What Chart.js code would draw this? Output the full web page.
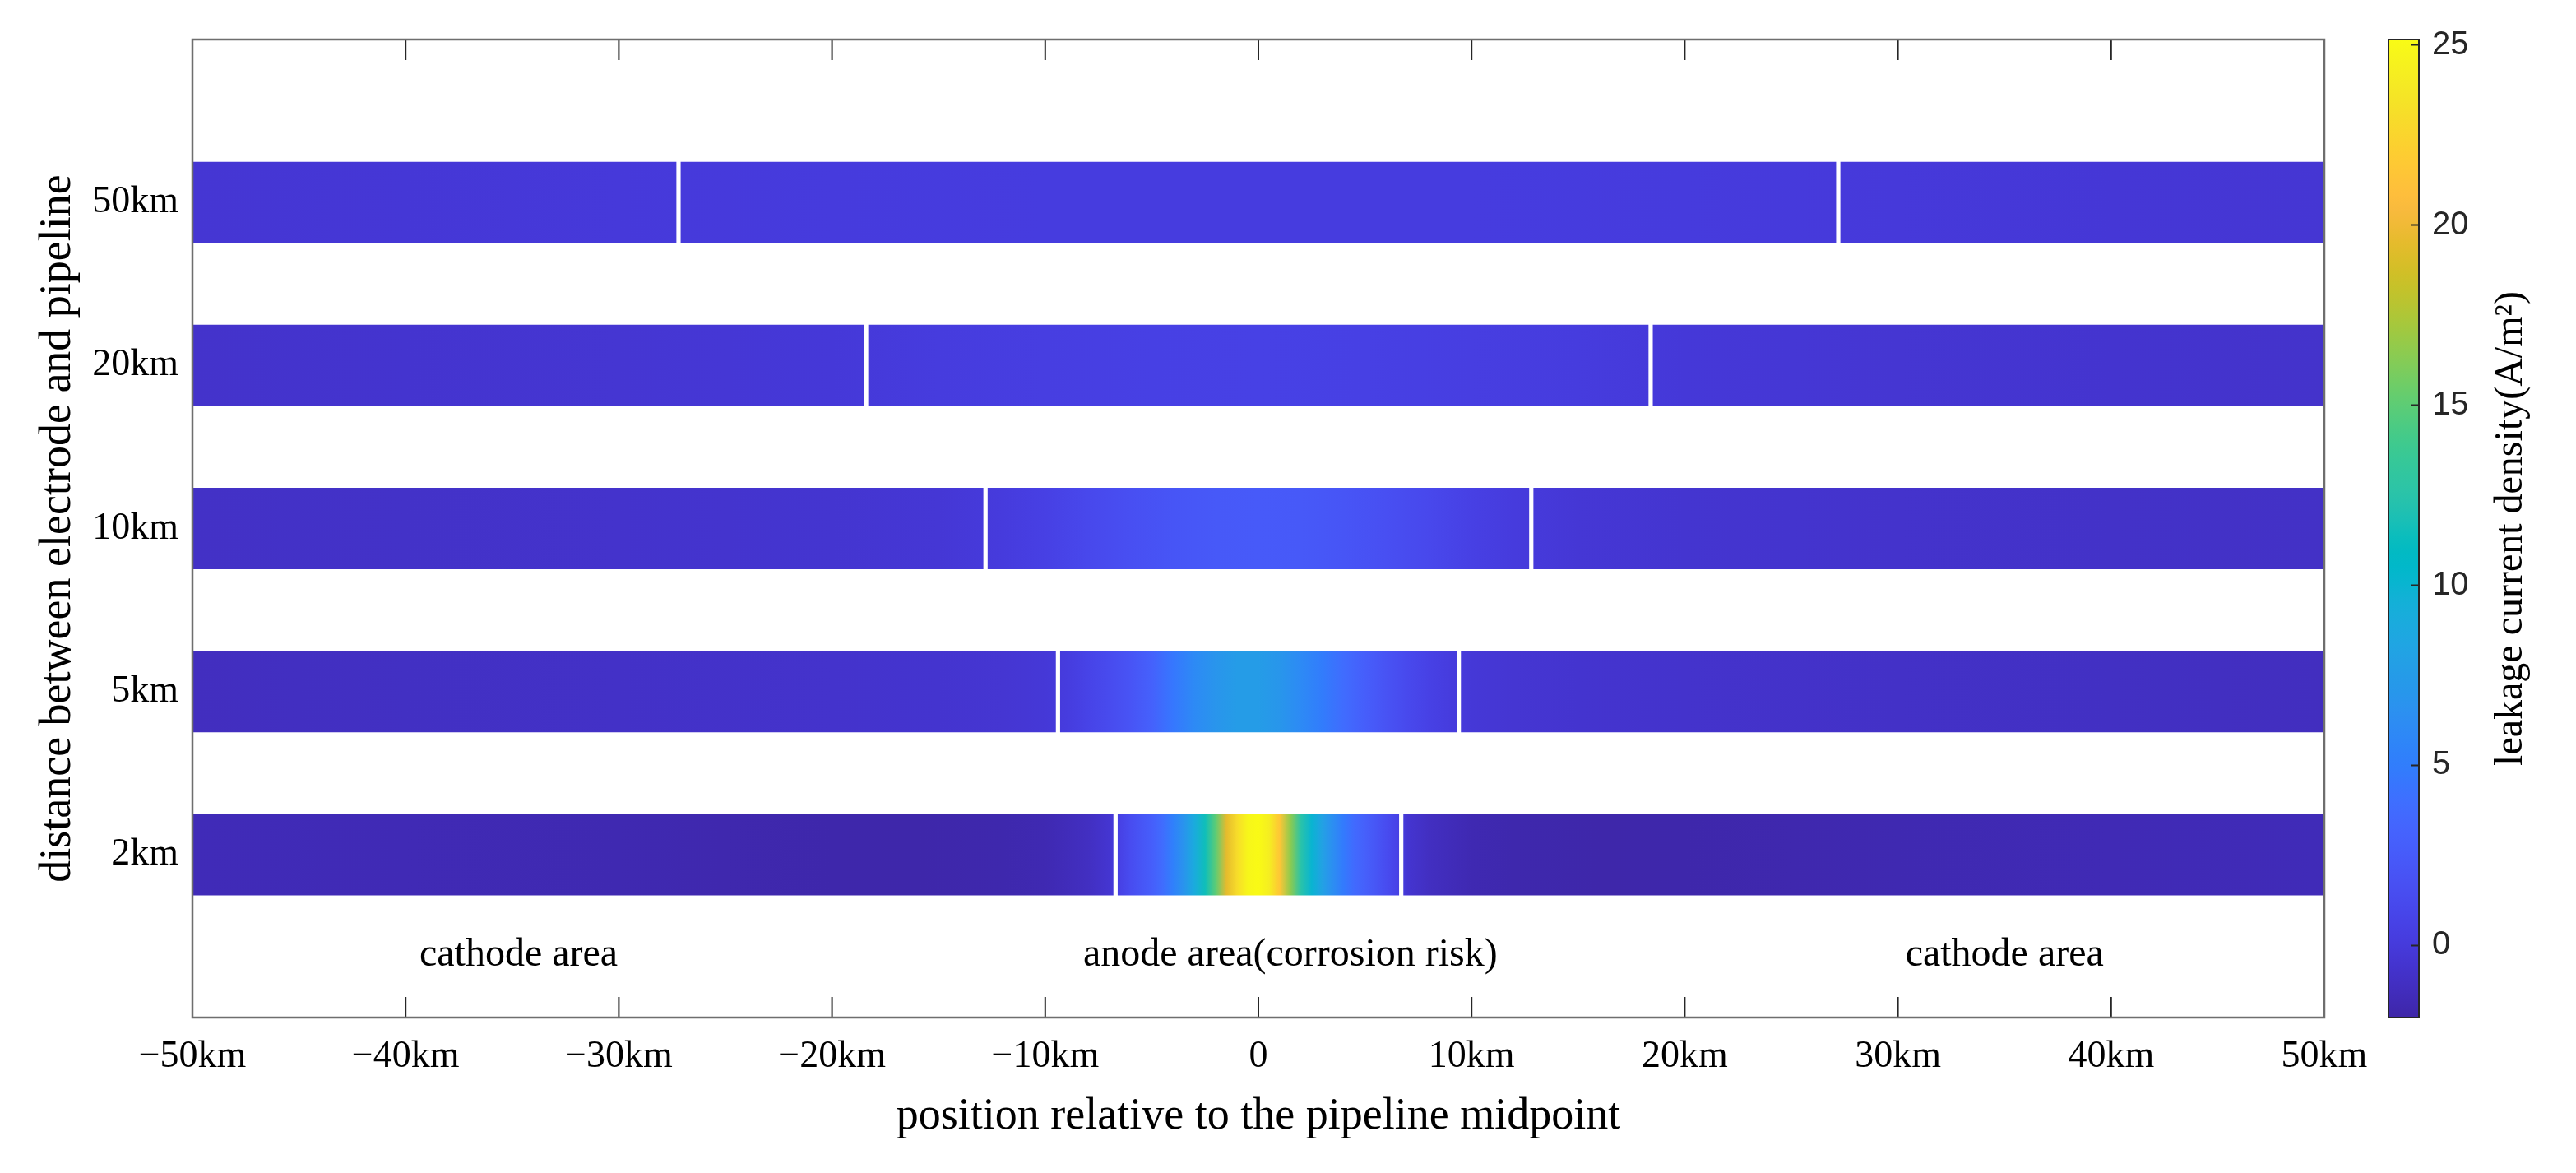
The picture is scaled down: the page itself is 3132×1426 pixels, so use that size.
<!DOCTYPE html>
<html>
<head>
<meta charset="utf-8">
<script src="https://cdn.jsdelivr.net/npm/chart.js@4.4.1/dist/chart.umd.min.js"></script>
<style>
    html, body { margin: 0; padding: 0; background: #fff; }
    #wrap { width: 3132px; height: 1426px; }
</style>
</head>
<body>
<div id="wrap"><canvas id="leak-chart"></canvas></div>
<script>
const rowLabels = ['2km', '5km', '10km', '20km', '50km'];
const xTicks = [-50, -40, -30, -20, -10, 0, 10, 20, 30, 40, 50];
const cbTicks = [0, 5, 10, 15, 20, 25];
const cbMin = -2;
const cbMax = 25.15;
// where the sign of the current changes (km from midpoint), one per row
const gapPos = [6.7, 9.4, 12.8, 18.4, 27.2];

const pos2km = [-50, -40, -30, -25, -20, -16, -12, -10, -8, -7, -6.5, -6, -5, -4.5, -4, -3.5, -3, -2.5, -2, -1.5, -1, -0.5, 0, 0.5, 1, 1.5, 2, 2.5, 3, 3.5, 4, 4.5, 5, 6, 6.5, 7, 8, 10, 12, 16, 20, 25, 30, 40, 50];
const val2km = [-1.45, -1.55, -1.7, -1.8, -1.92, -1.95, -1.85, -1.65, -1.1, -0.45, 0.6, 1.4, 2.8, 3.8, 5.2, 6.8, 9.0, 11.5, 15.0, 19.5, 23.0, 24.8, 25.1, 24.2, 21.5, 16.5, 12.5, 10.0, 8.0, 6.3, 4.8, 3.7, 2.9, 1.4, 0.7, -0.45, -1.1, -1.65, -1.85, -1.95, -1.92, -1.8, -1.7, -1.55, -1.45];
const pos5km = [-50, -40, -30, -20, -15, -12, -10, -9, -8, -7, -6, -5, -4, -3, -2, -1, 0, 1, 2, 3, 4, 5, 6, 7, 8, 9, 10, 12, 15, 20, 30, 40, 50];
const val5km = [-1.15, -1.0, -0.85, -0.65, -0.55, -0.4, -0.2, 0.15, 0.7, 1.3, 2.0, 3.0, 4.6, 6.0, 6.9, 7.5, 7.5, 7.0, 6.0, 4.9, 3.8, 2.8, 1.9, 1.2, 0.6, 0.15, -0.2, -0.4, -0.55, -0.65, -0.85, -1.0, -1.15];
const pos10km = [-50, -40, -30, -20, -15, -12, -10, -8, -6, -4, -2, 0, 2, 4, 6, 8, 10, 12, 15, 20, 30, 40, 50];
const val10km = [-0.9, -0.8, -0.65, -0.5, -0.3, 0.1, 0.5, 1.1, 1.6, 2.1, 2.4, 2.5, 2.4, 2.1, 1.6, 1.1, 0.5, 0.1, -0.3, -0.5, -0.65, -0.8, -0.9];
const pos20km = [-50, -40, -30, -20, -15, -10, -5, 0, 5, 10, 15, 20, 30, 40, 50];
const val20km = [-0.7, -0.55, -0.4, -0.15, 0.15, 0.35, 0.5, 0.55, 0.5, 0.35, 0.15, -0.15, -0.4, -0.55, -0.7];
const pos50km = [-50, -40, -30, -20, -10, 0, 10, 20, 30, 40, 50];
const val50km = [-0.35, -0.25, -0.05, 0.1, 0.18, 0.2, 0.18, 0.1, -0.05, -0.25, -0.35];

const rowPos = [pos2km, pos5km, pos10km, pos20km, pos50km];
const rowVal = [val2km, val5km, val10km, val20km, val50km];

// MATLAB parula, 64 steps
const parula = [
    [0.2422,0.1504,0.6603],[0.2504,0.1650,0.7076],[0.2578,0.1818,0.7511],[0.2647,0.1978,0.7952],
    [0.2706,0.2147,0.8364],[0.2751,0.2342,0.8710],[0.2783,0.2559,0.8991],[0.2803,0.2782,0.9221],
    [0.2813,0.3006,0.9414],[0.2810,0.3228,0.9579],[0.2795,0.3447,0.9717],[0.2760,0.3667,0.9829],
    [0.2699,0.3892,0.9906],[0.2602,0.4123,0.9952],[0.2440,0.4358,0.9988],[0.2206,0.4603,0.9973],
    [0.1963,0.4847,0.9892],[0.1834,0.5074,0.9798],[0.1786,0.5289,0.9682],[0.1764,0.5499,0.9520],
    [0.1687,0.5720,0.9359],[0.1540,0.5902,0.9218],[0.1460,0.6091,0.9079],[0.1380,0.6276,0.8973],
    [0.1248,0.6459,0.8883],[0.1113,0.6635,0.8763],[0.0952,0.6798,0.8598],[0.0689,0.6948,0.8394],
    [0.0297,0.7082,0.8163],[0.0036,0.7203,0.7917],[0.0067,0.7312,0.7660],[0.0433,0.7411,0.7394],
    [0.0964,0.7500,0.7120],[0.1408,0.7584,0.6842],[0.1717,0.7670,0.6554],[0.1938,0.7758,0.6251],
    [0.2161,0.7843,0.5923],[0.2470,0.7918,0.5567],[0.2906,0.7973,0.5188],[0.3406,0.8008,0.4789],
    [0.3909,0.8029,0.4354],[0.4456,0.8024,0.3909],[0.5044,0.7993,0.3480],[0.5616,0.7942,0.3045],
    [0.6174,0.7876,0.2612],[0.6720,0.7793,0.2227],[0.7242,0.7698,0.1910],[0.7738,0.7598,0.1646],
    [0.8203,0.7498,0.1535],[0.8634,0.7406,0.1596],[0.9035,0.7330,0.1774],[0.9393,0.7288,0.2100],
    [0.9728,0.7298,0.2394],[0.9956,0.7434,0.2371],[0.9970,0.7659,0.2199],[0.9952,0.7893,0.2028],
    [0.9892,0.8136,0.1885],[0.9786,0.8386,0.1766],[0.9676,0.8639,0.1643],[0.9610,0.8890,0.1537],
    [0.9597,0.9135,0.1423],[0.9628,0.9373,0.1265],[0.9691,0.9606,0.1064],[0.9769,0.9839,0.0805]
];

function rgb(c) {
    return `rgb(${Math.round(c[0] * 255)},${Math.round(c[1] * 255)},${Math.round(c[2] * 255)})`;
}
function colorFor(v) {
    let t = (v - cbMin) / (cbMax - cbMin);
    t = Math.min(1, Math.max(0, t)) * (parula.length - 1);
    const i = Math.min(parula.length - 2, Math.floor(t));
    const f = t - i;
    const a = parula[i], b = parula[i + 1];
    return rgb([a[0] + (b[0] - a[0]) * f, a[1] + (b[1] - a[1]) * f, a[2] + (b[2] - a[2]) * f]);
}

// three segments per row, split by a thin white gap at the sign change
const segments = [];
gapPos.forEach((g, i) => {
    segments.push({ x: [-50, -g - 0.1], y: i + 1 });
    segments.push({ x: [-g + 0.1, g - 0.1], y: i + 1 });
    segments.push({ x: [g + 0.1, 50], y: i + 1 });
});

function rowGradient(chart, i) {
    const xs = chart.scales.x;
    const grad = chart.ctx.createLinearGradient(xs.getPixelForValue(-50), 0, xs.getPixelForValue(50), 0);
    rowPos[i].forEach((p, k) => grad.addColorStop((p + 50) / 100, colorFor(rowVal[i][k])));
    return grad;
}

const serif = 'Liberation Serif';
const notes = [
    { text: 'cathode area', x: -34.7, y: 0.32 },
    { text: 'anode area(corrosion risk)', x: 1.5, y: 0.32 },
    { text: 'cathode area', x: 35.0, y: 0.32 }
];

const framePlugin = {
    id: 'frame',
    beforeDatasetsDraw(chart) {
        const { ctx, chartArea: a, scales: { x, y } } = chart;
        ctx.save();
        ctx.strokeStyle = '#262626';
        ctx.lineWidth = 2;
        ctx.beginPath();
        xTicks.forEach(v => {
            const px = x.getPixelForValue(v);
            ctx.moveTo(px, a.bottom); ctx.lineTo(px, a.bottom - 25);
            ctx.moveTo(px, a.top); ctx.lineTo(px, a.top + 25);
        });
        rowLabels.forEach((_, i) => {
            const py = y.getPixelForValue(i + 1);
            ctx.moveTo(a.left, py); ctx.lineTo(a.left + 25, py);
            ctx.moveTo(a.right, py); ctx.lineTo(a.right - 25, py);
        });
        ctx.stroke();
        ctx.restore();
    },
    afterDatasetsDraw(chart) {
        const { ctx, chartArea: a, scales: { x, y } } = chart;
        ctx.save();
        ctx.strokeStyle = '#6e6e6e';
        ctx.lineWidth = 2.5;
        ctx.strokeRect(a.left, a.top, a.right - a.left, a.bottom - a.top);
        ctx.fillStyle = '#000';
        ctx.font = `48px "${serif}"`;
        ctx.textAlign = 'center';
        ctx.textBaseline = 'alphabetic';
        notes.forEach(n => ctx.fillText(n.text, x.getPixelForValue(n.x), y.getPixelForValue(n.y)));
        ctx.restore();
    },
    afterDraw(chart) {
        const { ctx } = chart;
        const cb = chart.scales.cb;
        const top = cb.getPixelForValue(cbMax);
        const bottom = cb.getPixelForValue(cbMin);
        const left = chart.scales.gap.left + 78;
        const w = 37;
        ctx.save();
        const grad = ctx.createLinearGradient(0, bottom, 0, top);
        parula.forEach((c, i) => grad.addColorStop(i / (parula.length - 1), rgb(c)));
        ctx.fillStyle = grad;
        ctx.fillRect(left, top, w, bottom - top);
        ctx.strokeStyle = '#262626';
        ctx.lineWidth = 2;
        ctx.strokeRect(left, top, w, bottom - top);
        ctx.beginPath();
        cbTicks.forEach(v => {
            const py = cb.getPixelForValue(v);
            ctx.moveTo(left + w, py); ctx.lineTo(left + w - 10, py);
        });
        ctx.stroke();
        ctx.translate(3053, (top + bottom) / 2);
        ctx.rotate(-Math.PI / 2);
        ctx.fillStyle = '#000';
        ctx.font = `48px "${serif}"`;
        ctx.textAlign = 'center';
        ctx.textBaseline = 'middle';
        ctx.fillText('leakage current density(A/m²)', 0, 0);
        ctx.restore();
    }
};

new Chart(document.getElementById('leak-chart'), {
    type: 'bar',
    data: {
        datasets: [{
            label: 'leakage current density',
            data: segments,
            backgroundColor: (c) => {
                if (!c.chart.chartArea || !c.raw) return '#4438d6';
                return rowGradient(c.chart, c.raw.y - 1);
            },
            borderWidth: 0,
            barPercentage: 0.5,
            categoryPercentage: 1
        }]
    },
    options: {
        indexAxis: 'y',
        responsive: true,
        maintainAspectRatio: false,
        animation: false,
        devicePixelRatio: 1,
        layout: { padding: { top: 48, left: 0, right: 0, bottom: 0 } },
        plugins: {
            legend: { display: false },
            tooltip: { enabled: false }
        },
        scales: {
            x: {
                type: 'linear',
                min: -50,
                max: 50,
                afterFit: (s) => { s.height = 189; },
                afterBuildTicks: (s) => { s.ticks = xTicks.map(v => ({ value: v })); },
                grid: { display: false, drawTicks: false },
                border: { display: false },
                ticks: {
                    padding: 20,
                    color: '#000',
                    font: { family: serif, size: 46 },
                    maxRotation: 0,
                    autoSkip: false,
                    callback: (v) => v === 0 ? '0' : (v < 0 ? '\u2212' + (-v) : v) + 'km'
                },
                title: {
                    display: true,
                    text: 'position relative to the pipeline midpoint',
                    color: '#000',
                    font: { family: serif, size: 54 },
                    padding: { top: 0, bottom: 36 }
                }
            },
            y: {
                type: 'linear',
                min: 0,
                max: 6,
                offset: false,
                afterFit: (s) => { s.width = 234; },
                grid: { display: false, drawTicks: false, offset: false },
                border: { display: false },
                ticks: {
                    stepSize: 1,
                    padding: 17,
                    color: '#000',
                    autoSkip: false,
                    font: { family: serif, size: 46 },
                    callback: (v) => rowLabels[v - 1] || ''
                },
                title: {
                    display: true,
                    text: 'distance between electrode and pipeline',
                    color: '#000',
                    font: { family: serif, size: 54 },
                    padding: { top: 38, bottom: 0 }
                }
            },
            // empty strip between the plot and the colorbar labels; the colorbar is painted on it
            gap: {
                type: 'linear',
                position: 'right',
                axis: 'y',
                weight: 0,
                offset: false,
                afterFit: (s) => { s.width = 123; },
                grid: { display: false, drawTicks: false, offset: false },
                border: { display: false },
                ticks: { display: false }
            },
            cb: {
                type: 'linear',
                position: 'right',
                axis: 'y',
                weight: 1,
                min: cbMin,
                max: cbMax,
                offset: false,
                afterFit: (s) => { s.width = 183; },
                afterBuildTicks: (s) => { s.ticks = cbTicks.map(v => ({ value: v })); },
                grid: { display: false, drawTicks: false, offset: false },
                border: { display: false },
                ticks: {
                    padding: 8,
                    color: '#262626',
                    font: { family: 'Liberation Sans', size: 40 }
                }
            }
        }
    },
    plugins: [framePlugin]
});
</script>
</body>
</html>
